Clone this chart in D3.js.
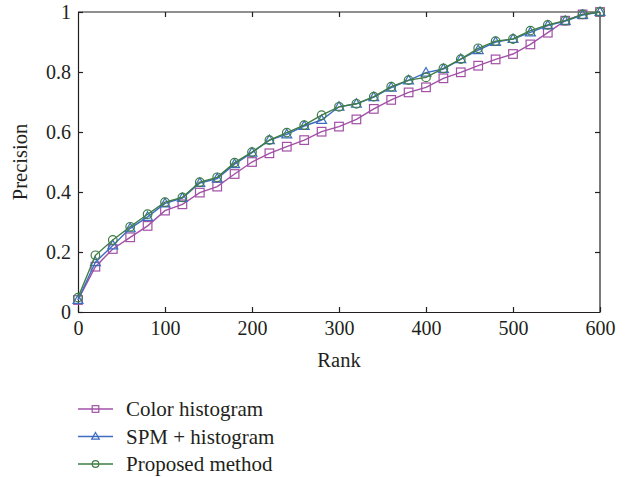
<!DOCTYPE html>
<html>
<head>
<meta charset="utf-8">
<script src="https://cdn.jsdelivr.net/npm/d3@7"></script>
<style>
  body { margin: 0; background: #fff; }
  text { font-family: "Liberation Serif", "DejaVu Serif", serif; fill: #231f20; }
</style>
</head>
<body>
<script>
// Data
const ranks = d3.range(0, 601, 20);

const colorHistogram = [0.04, 0.151, 0.21, 0.249, 0.287, 0.338, 0.359, 0.398, 0.418, 0.46,
  0.5, 0.529, 0.551, 0.573, 0.601, 0.618, 0.642, 0.677, 0.707, 0.732,
  0.749, 0.779, 0.799, 0.821, 0.842, 0.86, 0.892, 0.931, 0.971, 0.992, 1.0];

const spmHistogram = [0.04, 0.166, 0.222, 0.279, 0.317, 0.362, 0.38, 0.43, 0.445, 0.493,
  0.531, 0.573, 0.592, 0.62, 0.64, 0.684, 0.694, 0.716, 0.748, 0.772,
  0.798, 0.81, 0.843, 0.873, 0.9, 0.91, 0.932, 0.955, 0.97, 0.99, 1.0];

const proposedMethod = [0.048, 0.189, 0.24, 0.284, 0.326, 0.366, 0.382, 0.433, 0.449, 0.498,
  0.533, 0.573, 0.598, 0.623, 0.656, 0.684, 0.694, 0.718, 0.751, 0.773,
  0.782, 0.812, 0.843, 0.879, 0.903, 0.91, 0.938, 0.957, 0.971, 0.992, 1.0];

const xTicks = [0, 100, 200, 300, 400, 500, 600];
const yTicks = [0, 0.2, 0.4, 0.6, 0.8, 1];

const series = [
  { name: "Color histogram", values: colorHistogram, color: "#a251a6", marker: "square" },
  { name: "SPM + histogram", values: spmHistogram, color: "#3d6cc0", marker: "triangle" },
  { name: "Proposed method", values: proposedMethod, color: "#3f7d45", marker: "circle" }
];

const width = 627, height = 477;
const margin = { left: 78, right: 27, top: 12, bottom: 165 };

const svg = d3.select("body").append("svg")
  .attr("width", width)
  .attr("height", height);

const x = d3.scaleLinear().domain([0, 600]).range([margin.left, width - margin.right]);
const y = d3.scaleLinear().domain([0, 1]).range([height - margin.bottom, margin.top]);

// Frame
svg.append("line")
  .attr("x1", x(0)).attr("x2", x(600)).attr("y1", y(1)).attr("y2", y(1))
  .attr("stroke", "#231f20").attr("stroke-width", 1);
svg.append("line")
  .attr("x1", x(600)).attr("x2", x(600)).attr("y1", y(1)).attr("y2", y(0))
  .attr("stroke", "#7a7a7a").attr("stroke-width", 2);

// Axes, ticks pointing inward
const fmtY = d => d === 0 || d === 1 ? String(d) : d3.format(".1f")(d);

svg.append("g")
  .attr("transform", `translate(0,${y(0)})`)
  .call(d3.axisBottom(x).tickValues(xTicks).tickSizeInner(-5).tickSizeOuter(0).tickPadding(9));
svg.append("g")
  .attr("transform", `translate(${x(0)},0)`)
  .call(d3.axisLeft(y).tickValues(yTicks).tickFormat(fmtY).tickSizeInner(-5).tickSizeOuter(0).tickPadding(7));

// top and right tick marks
svg.append("g")
  .attr("transform", `translate(0,${y(1)})`)
  .call(d3.axisTop(x).tickValues(xTicks.slice(1, -1)).tickSizeInner(-5).tickSizeOuter(0).tickFormat(""))
  .call(g => g.select(".domain").remove());
svg.append("g")
  .attr("transform", `translate(${x(600)},0)`)
  .call(d3.axisRight(y).tickValues(yTicks.slice(1, -1)).tickSizeInner(-5).tickSizeOuter(0).tickFormat(""))
  .call(g => g.select(".domain").remove());

svg.selectAll(".domain").attr("stroke", "#231f20").attr("stroke-width", 1.2);
svg.selectAll(".tick line").attr("stroke", "#231f20").attr("stroke-width", 1.2);
svg.selectAll(".tick text").attr("font-size", 20).attr("fill", "#231f20")
  .attr("font-family", "Liberation Serif, DejaVu Serif, serif");

// Axis titles
svg.append("text")
  .attr("x", (x(0) + x(600)) / 2).attr("y", 367)
  .attr("text-anchor", "middle").attr("font-size", 20.5)
  .text("Rank");
svg.append("text")
  .attr("transform", `translate(27,${(y(0) + y(1)) / 2}) rotate(-90)`)
  .attr("text-anchor", "middle").attr("font-size", 20.5)
  .text("Precision");

// Markers
function drawMarker(g, type, cx, cy, color, size) {
  if (type === "square") {
    g.append("rect")
      .attr("x", cx - size).attr("y", cy - size)
      .attr("width", size * 2).attr("height", size * 2)
      .attr("fill", "none").attr("stroke", color).attr("stroke-width", 1.2);
  } else if (type === "triangle") {
    g.append("path")
      .attr("d", `M${cx},${cy - size * 1.2}L${cx + size * 1.15},${cy + size * 0.8}L${cx - size * 1.15},${cy + size * 0.8}Z`)
      .attr("fill", "none").attr("stroke", color).attr("stroke-width", 1.2);
  } else {
    g.append("circle")
      .attr("cx", cx).attr("cy", cy).attr("r", size)
      .attr("fill", "none").attr("stroke", color).attr("stroke-width", 1.2);
  }
}

const line = d3.line()
  .x((d, i) => x(ranks[i]))
  .y(d => y(d));

series.forEach(s => {
  const g = svg.append("g");
  g.append("path")
    .datum(s.values)
    .attr("d", line)
    .attr("fill", "none")
    .attr("stroke", s.color)
    .attr("stroke-width", 1.4);
  s.values.forEach((v, i) => drawMarker(g, s.marker, x(ranks[i]), y(v), s.color, 4.3));
});

// Legend
const legend = svg.append("g");
series.forEach((s, i) => {
  const ly = 409 + i * 27.5;
  legend.append("line")
    .attr("x1", 78).attr("x2", 113).attr("y1", ly).attr("y2", ly)
    .attr("stroke", s.color).attr("stroke-width", 1.3);
  drawMarker(legend, s.marker, 95.5, ly, s.color, 3.3);
  legend.append("text")
    .attr("x", 126).attr("y", ly + 7)
    .attr("font-size", 21)
    .text(s.name);
});
</script>
</body>
</html>
